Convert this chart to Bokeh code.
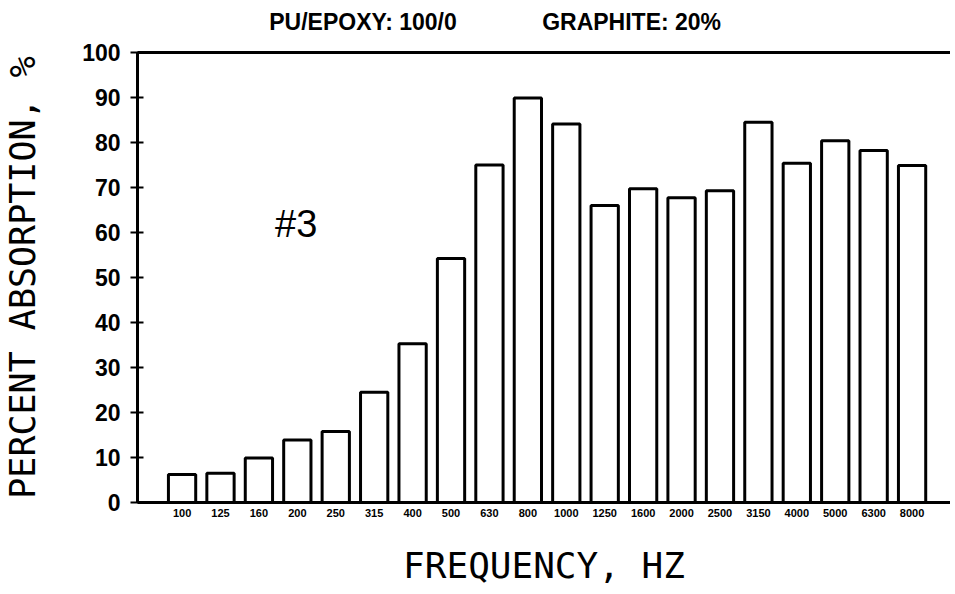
from bokeh.plotting import figure
from bokeh.models import Range1d, FixedTicker, Label, LinearAxis
from bokeh.embed import file_html
from bokeh.resources import INLINE

# Data
freqs = ["100", "125", "160", "200", "250", "315", "400", "500", "630", "800",
         "1000", "1250", "1600", "2000", "2500", "3150", "4000", "5000", "6300", "8000"]
absorption = [6.2, 6.5, 9.9, 13.9, 15.8, 24.5, 35.3, 54.2, 75.0, 89.9,
              84.1, 66.0, 69.7, 67.7, 69.3, 84.5, 75.4, 80.4, 78.2, 74.9]
y_ticks = [0, 10, 20, 30, 40, 50, 60, 70, 80, 90, 100]
header_texts = ["PU/EPOXY: 100/0", "GRAPHITE: 20%"]
header_pos = [4.71, 11.70]

idx = list(range(len(freqs)))

p = figure(width=950, height=590, output_backend="svg", toolbar_location=None,
           x_range=Range1d(-1.16, 20.0), y_range=Range1d(0, 100),
           min_border_left=137, min_border_right=0, min_border_top=52, min_border_bottom=88)
p.outline_line_color = None
p.background_fill_color = "white"
p.border_fill_color = "white"
p.xgrid.visible = False
p.ygrid.visible = False

p.vbar(x=idx, top=absorption, width=0.71, bottom=0,
       fill_color="white", line_color="black", line_width=3)

# bottom x axis
xa = p.below[0]
xa.ticker = FixedTicker(ticks=idx)
xa.major_label_overrides = {i: f for i, f in zip(idx, freqs)}
xa.major_tick_out = 0
xa.major_tick_in = 0
xa.minor_tick_out = 0
xa.minor_tick_in = 0
xa.axis_line_width = 3
xa.axis_line_color = "black"
xa.major_label_text_font = "Liberation Sans"
xa.major_label_text_font_style = "bold"
xa.major_label_text_font_size = "11px"
xa.major_label_text_color = "black"
xa.major_label_standoff = 6
xa.axis_label = "FREQUENCY, HZ"
xa.axis_label_text_font = "DejaVu Sans Mono"
xa.axis_label_text_font_style = "normal"
xa.axis_label_text_font_size = "36px"
xa.axis_label_text_color = "black"
xa.axis_label_standoff = 25

# top axis: serves as the top border line and carries the header texts
top = LinearAxis(ticker=FixedTicker(ticks=header_pos),
                 major_label_overrides={k: t for k, t in zip(header_pos, header_texts)})
top.major_tick_out = 0
top.major_tick_in = 0
top.minor_tick_out = 0
top.minor_tick_in = 0
top.axis_line_width = 3
top.axis_line_color = "black"
top.major_label_text_font = "Liberation Sans"
top.major_label_text_font_style = "bold"
top.major_label_text_font_size = "23px"
top.major_label_text_color = "black"
top.major_label_standoff = 18
p.add_layout(top, "above")

# y axis
ya = p.left[0]
ya.ticker = FixedTicker(ticks=y_ticks)
ya.major_tick_in = 6
ya.major_tick_out = 7
ya.major_tick_line_width = 2
ya.major_tick_line_color = "black"
ya.minor_tick_out = 0
ya.minor_tick_in = 0
ya.axis_line_width = 3
ya.axis_line_color = "black"
ya.major_label_text_font = "Liberation Sans"
ya.major_label_text_font_style = "bold"
ya.major_label_text_font_size = "23px"
ya.major_label_text_color = "black"
ya.major_label_standoff = 10
ya.axis_label = "PERCENT ABSORPTION, %"
ya.axis_label_text_font = "DejaVu Sans Mono"
ya.axis_label_text_font_style = "normal"
ya.axis_label_text_font_size = "35px"
ya.axis_label_text_color = "black"
ya.axis_label_standoff = 36

# sample label
p.add_layout(Label(x=2.97, y=62, text="#3", text_font="Liberation Sans",
                   text_font_size="38px", text_align="center", text_baseline="middle",
                   text_color="black"))

open("out.html", "w").write(file_html(p, INLINE))
